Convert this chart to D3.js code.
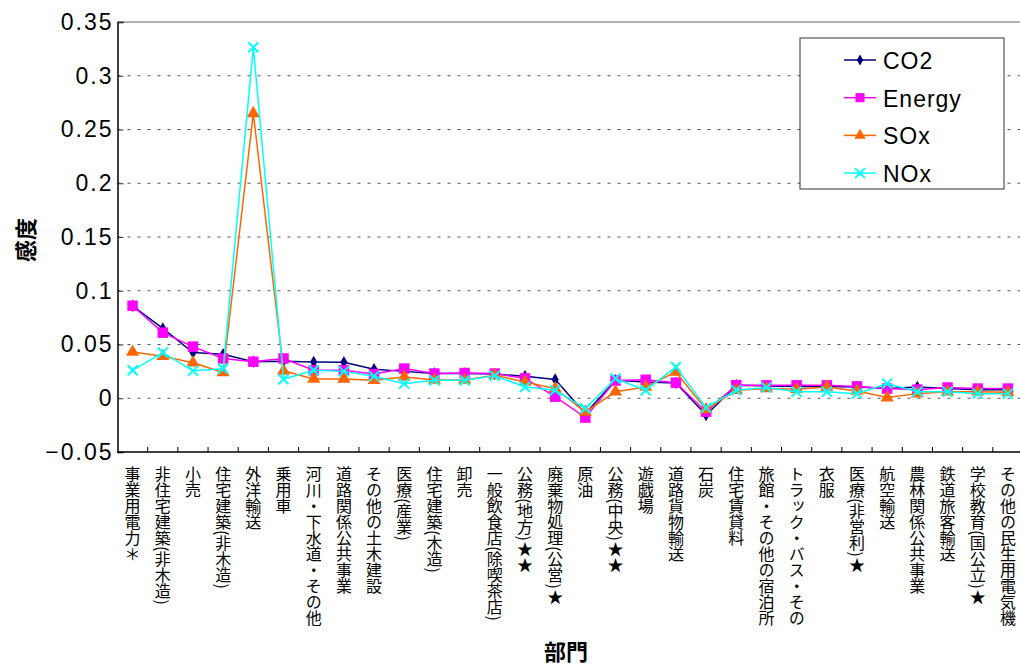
<!DOCTYPE html>
<html>
<head>
<meta charset="utf-8">
<script src="https://cdn.jsdelivr.net/npm/d3@7"></script>
<style>
  body { margin: 0; background: #fff; }
  svg { display: block; }
  .vlab { writing-mode: vertical-rl; font-family: "Noto Sans CJK JP", sans-serif; font-size: 16px; }
</style>
</head>
<body>
<div id="chart"></div>
<script>
// 部門
const sectors = ["事業用電力＊", "非住宅建築(非木造)", "小売", "住宅建築(非木造)", "外洋輸送", "乗用車",
  "河川・下水道・その他", "道路関係公共事業", "その他の土木建設", "医療(産業)", "住宅建築(木造)", "卸売",
  "一般飲食店(除喫茶店)", "公務(地方)★★", "廃棄物処理(公営)★", "原油", "公務(中央)★★", "遊戯場",
  "道路貨物輸送", "石炭", "住宅賃貸料", "旅館・その他の宿泊所", "トラック・バス・その", "衣服",
  "医療(非営利)★", "航空輸送", "農林関係公共事業", "鉄道旅客輸送", "学校教育(国公立)★", "その他の民生用電気機"];

const co2 = [0.086, 0.065, 0.0425, 0.041, 0.034, 0.0344, 0.0338, 0.0335, 0.027, 0.025, 0.023, 0.023, 0.0225, 0.0205, 0.0174,
  -0.0143, 0.0167, 0.0152, 0.0143, -0.0155, 0.012, 0.0115, 0.011, 0.011, 0.0105, 0.009, 0.0105, 0.009, 0.008, 0.008];
const energy = [0.086, 0.061, 0.048, 0.037, 0.034, 0.037, 0.026, 0.026, 0.0225, 0.0276, 0.023, 0.0235, 0.023, 0.0185, 0.0015,
  -0.018, 0.0165, 0.0172, 0.0145, -0.0125, 0.0122, 0.012, 0.012, 0.012, 0.011, 0.009, 0.008, 0.010, 0.009, 0.009];
const sox = [0.043, 0.039, 0.033, 0.024, 0.265, 0.0255, 0.018, 0.018, 0.0167, 0.0198, 0.017, 0.017, 0.0214, 0.0152, 0.009,
  -0.0127, 0.006, 0.0105, 0.0245, -0.0105, 0.0074, 0.009, 0.0084, 0.0105, 0.0068, 0.0006, 0.0043, 0.006, 0.006, 0.0055];
const nox = [0.026, 0.0425, 0.0255, 0.0275, 0.3265, 0.0177, 0.026, 0.025, 0.0205, 0.0136, 0.0167, 0.0167, 0.021, 0.0105, 0.0074,
  -0.0096, 0.0183, 0.0074, 0.029, -0.0087, 0.0074, 0.010, 0.006, 0.006, 0.0043, 0.0136, 0.006, 0.006, 0.0043, 0.0043];

const yTicks = [-0.05, 0, 0.05, 0.1, 0.15, 0.2, 0.25, 0.3, 0.35];

const series = [
  { name: "CO2", values: co2, color: "#000080", symbol: d3.symbolDiamond, size: 45 },
  { name: "Energy", values: energy, color: "#FF00FF", symbol: d3.symbolSquare, size: 110 },
  { name: "SOx", values: sox, color: "#FF6600", symbol: d3.symbolTriangle, size: 75 },
  { name: "NOx", values: nox, color: "#00FFFF", symbol: "x", size: 0 }
];

const W = 1020, H = 668;
const margin = { top: 22, right: -3, bottom: 216, left: 117.5 };
const width = W - margin.left - margin.right;
const height = H - margin.top - margin.bottom;

const svg = d3.select("#chart").append("svg")
  .attr("width", W).attr("height", H);
const g = svg.append("g").attr("transform", `translate(${margin.left},${margin.top})`);

const x = d3.scaleBand().domain(sectors).range([0, width]);
const y = d3.scaleLinear().domain([-0.05, 0.35]).range([height, 0]);
const cx = d => x(d) + x.bandwidth() / 2;

// 目盛線
g.selectAll(".grid").data(yTicks.filter(t => t > -0.05)).enter()
  .append("line")
  .attr("x1", 0).attr("x2", width)
  .attr("y1", d => y(d)).attr("y2", d => y(d))
  .attr("stroke", d => d === 0.35 ? "#999" : "#555")
  .attr("stroke-width", d => d === 0.35 ? 1.5 : 1)
  .attr("stroke-dasharray", d => d === 0.35 ? null : "3,7");

// Y軸
const yAxis = g.append("g")
  .call(d3.axisLeft(y).tickValues(yTicks).tickSize(-6).tickPadding(8).tickFormat(d => d === 0 ? "0" : String(+d.toFixed(2)).replace("-", "−")));
yAxis.select(".domain").attr("stroke", "#000").attr("stroke-width", 1.5);
yAxis.selectAll(".tick line").attr("stroke", "#333");
yAxis.selectAll("text")
  .style("font-family", "'Liberation Sans', Arial, sans-serif")
  .style("font-size", "23px")
  .style("letter-spacing", "2px")
  .attr("fill", "#000").attr("x", -4);

// X軸
g.append("line")
  .attr("x1", 0).attr("x2", width).attr("y1", height).attr("y2", height)
  .attr("stroke", "#000").attr("stroke-width", 1.5);
g.selectAll(".xtick").data(sectors.slice(1)).enter()
  .append("line")
  .attr("x1", d => x(d)).attr("x2", d => x(d))
  .attr("y1", height).attr("y2", height - 5)
  .attr("stroke", "#000");

g.selectAll(".vlab").data(sectors).enter()
  .append("text")
  .attr("class", "vlab")
  .attr("x", d => cx(d))
  .attr("y", height + 14)
  .text(d => d);

// 軸タイトル
svg.append("text")
  .attr("transform", `translate(24,240) rotate(-90)`)
  .attr("text-anchor", "middle")
  .attr("dominant-baseline", "central")
  .style("font-family", "'Noto Sans CJK JP', sans-serif")
  .style("font-size", "22px")
  .style("font-weight", "bold")
  .text("感度");

svg.append("text")
  .attr("x", 566).attr("y", 660)
  .attr("text-anchor", "middle")
  .style("font-family", "'Noto Sans CJK JP', sans-serif")
  .style("font-size", "22px")
  .style("font-weight", "bold")
  .text("部門");

// 線と記号
function drawMarker(sel, s) {
  if (s.symbol === "x") {
    sel.append("path")
      .attr("d", "M-5,-5L5,5M-5,5L5,-5")
      .attr("stroke", s.color).attr("stroke-width", 2).attr("fill", "none");
  } else {
    sel.append("path")
      .attr("d", d3.symbol().type(s.symbol).size(s.size)())
      .attr("fill", s.color);
  }
}

const line = d3.line().x(d => cx(d.sector)).y(d => y(d.value));

series.forEach(s => {
  const pts = sectors.map((sector, i) => ({ sector, value: s.values[i] }));
  g.append("path")
    .datum(pts)
    .attr("fill", "none")
    .attr("stroke", s.color)
    .attr("stroke-width", 1.5)
    .attr("d", line);
  g.selectAll(null).data(pts).enter()
    .append("g")
    .attr("transform", d => `translate(${cx(d.sector)},${y(d.value)})`)
    .each(function() { drawMarker(d3.select(this), s); });
});

// 凡例
const legend = svg.append("g").attr("transform", "translate(800,38)");
legend.append("rect")
  .attr("width", 204).attr("height", 151)
  .attr("fill", "#fff").attr("stroke", "#333").attr("stroke-width", 1);
series.forEach((s, i) => {
  const row = legend.append("g").attr("transform", `translate(0,${22 + i * 37.7})`);
  row.append("line").attr("x1", 44).attr("x2", 76).attr("stroke", s.color).attr("stroke-width", 1.5);
  const m = row.append("g").attr("transform", "translate(60,0)");
  drawMarker(m, s.symbol === "x" ? s : { ...s, size: s.size * 0.75 });
  row.append("text")
    .attr("x", 83).attr("y", 1)
    .attr("dominant-baseline", "central")
    .style("font-family", "'Liberation Sans', Arial, sans-serif")
    .style("font-size", "23px")
    .style("letter-spacing", "1px")
    .text(s.name);
});
</script>
</body>
</html>
